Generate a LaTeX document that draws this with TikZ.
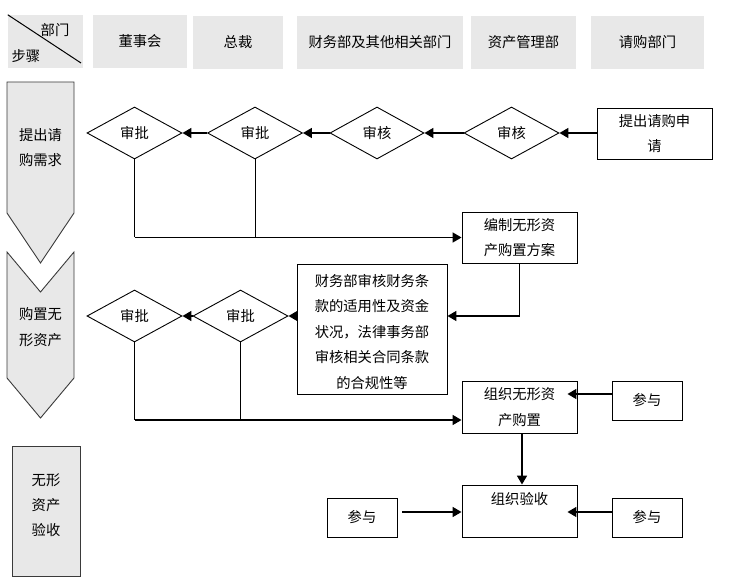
\documentclass[tikz,border=0pt]{standalone}
\usepackage{fontspec}
\setmainfont{Noto Sans CJK SC}
\usetikzlibrary{arrows.meta,shapes.geometric}
\definecolor{hdrgray}{HTML}{E8E8E8}
\definecolor{edgegray}{HTML}{3A3A3A}
\begin{document}
\begin{tikzpicture}[x=1pt,y=-1pt,
  font=\fontsize{14.3}{25.5}\selectfont,
  hdr/.style={fill=hdrgray, draw=none, inner sep=0pt, minimum height=53pt},
  stepshape/.style={fill=hdrgray, draw=edgegray, line width=0.9pt},
  box/.style={draw=black, line width=0.9pt, fill=white, inner sep=0pt, align=center},
  dia/.style={diamond, draw=black, line width=0.9pt, fill=white, inner sep=0pt,
              minimum width=95pt, minimum height=52pt},
  arr/.style={line width=1.7pt, -{Triangle[length=9pt,width=10pt]}},
  thinline/.style={line width=0.9pt}
]
\useasboundingbox (0,0) rectangle (733,585);

% header row
\node[hdr, minimum width=75pt] (hc) at (45.5,41.5) {};
\draw[line width=1pt] (hc.north west) -- (81,63);
\node (hbm) at (55,30) {部门};
\node (hbz) at (26,56) {步骤};
\node[hdr, minimum width=94pt] (h1) at (140,41.5) {董事会};
\node[hdr, minimum width=90pt] (h2) at (238,42.5) {总裁};
\node[hdr, minimum width=166pt] (h3) at (380,42.5) {财务部及其他相关部门};
\node[hdr, minimum width=105pt] (h4) at (523.5,42.5) {资产管理部};
\node[hdr, minimum width=113pt] (h5) at (647.5,42.5) {请购部门};

% step column
\draw[stepshape] (7,82) -- (74,82) -- (74,213) -- (40.5,263) -- (7,213) -- cycle;
\node[align=center] (s1) at (40.5,147.5) {提出请\\购需求};
\draw[stepshape] (7,252) -- (40.5,292) -- (74,252) -- (74,378) -- (40.5,418) -- (7,378) -- cycle;
\node[align=center] (s2) at (40.5,327) {购置无\\形资产};
\node[stepshape, minimum width=68pt, minimum height=130pt, inner sep=0pt] (s3) at (46,511) {};
\node[align=center, font=\fontsize{14.3}{25}\selectfont] (s3t) at (46,505) {无形\\资产\\验收};

% row 1
\node[box, minimum width=115pt, minimum height=51pt] (req) at (654.5,133.5) {提出请购申\\请};
\node[dia] (d4) at (511.5,133) {审核};
\node[dia, minimum width=94pt] (d3) at (377,133) {审核};
\node[dia] (d2) at (255,133) {审批};
\node[dia] (d1) at (134.5,133) {审批};
\draw[arr] (req.west |- d4.east) -- (d4.east);
\draw[arr] (d4.west) -- (d3.east);
\draw[arr] (d3.west) -- (d2.east);
\draw[arr] (d2.west) -- (d1.east);

\node[box, minimum width=115pt, minimum height=51pt] (plan) at (519.5,237.5) {编制无形资\\产购置方案};
\coordinate (j1) at (d1.south |- plan.west);
\coordinate (j2) at (d2.south |- plan.west);
\draw[thinline] (d1.south) -- (j1);
\draw[thinline] (d2.south) -- (j2);
\draw[arr] (j1) -- (plan.west);

% row 2
\node[box, minimum width=150pt, minimum height=130pt] (fin) at (372,329) {};
\node[align=center] (fint) at (372,332) {财务部审核财务条\\款的适用性及资金\\状况，法律事务部\\审核相关合同条款\\的合规性等};
\node[dia] (d6) at (240.5,316) {审批};
\node[dia] (d5) at (134.5,316) {审批};
\coordinate (pj) at (plan.south |- d6.east);
\draw[thinline] (plan.south) -- (pj);
\draw[arr] (pj) -- (fin.east |- d6.east);
\draw[arr] (fin.west |- d6.east) -- (d6.east);
\draw[arr] (d6.west) -- (d5.east);

\node[box, minimum width=115pt, minimum height=52pt] (buy) at (519.5,407) {组织无形资\\产购置};
\node[box, minimum width=70pt, minimum height=39pt] (cy1) at (647,400.5) {参与};
\coordinate (k1) at (d5.south |- 0,420);
\coordinate (k2) at (d6.south |- 0,420);
\draw[thinline] (d5.south) -- (k1);
\draw[thinline] (d6.south) -- (k2);
\draw[arr] (k1) -- (buy.west |- k1);
\draw[arr, shorten >=-10pt] (cy1.west |- 0,394) -- (buy.east |- 0,394);

% row 3
\node[box, minimum width=115pt, minimum height=52pt] (chk) at (519.5,511) {组织验收\\~};
\node[box, minimum width=70pt, minimum height=39pt] (cy2) at (362,517.5) {参与};
\node[box, minimum width=70pt, minimum height=39pt] (cy3) at (647,517.5) {参与};
\coordinate (bs) at (522,433);
\draw[arr] (bs) -- (bs |- chk.north);
\draw[arr, shorten <=5pt] (cy2.east |- 0,512) -- (chk.west |- 0,512);
\draw[arr, shorten >=-10pt] (cy3.west |- 0,512) -- (chk.east |- 0,512);
\end{tikzpicture}
\end{document}
